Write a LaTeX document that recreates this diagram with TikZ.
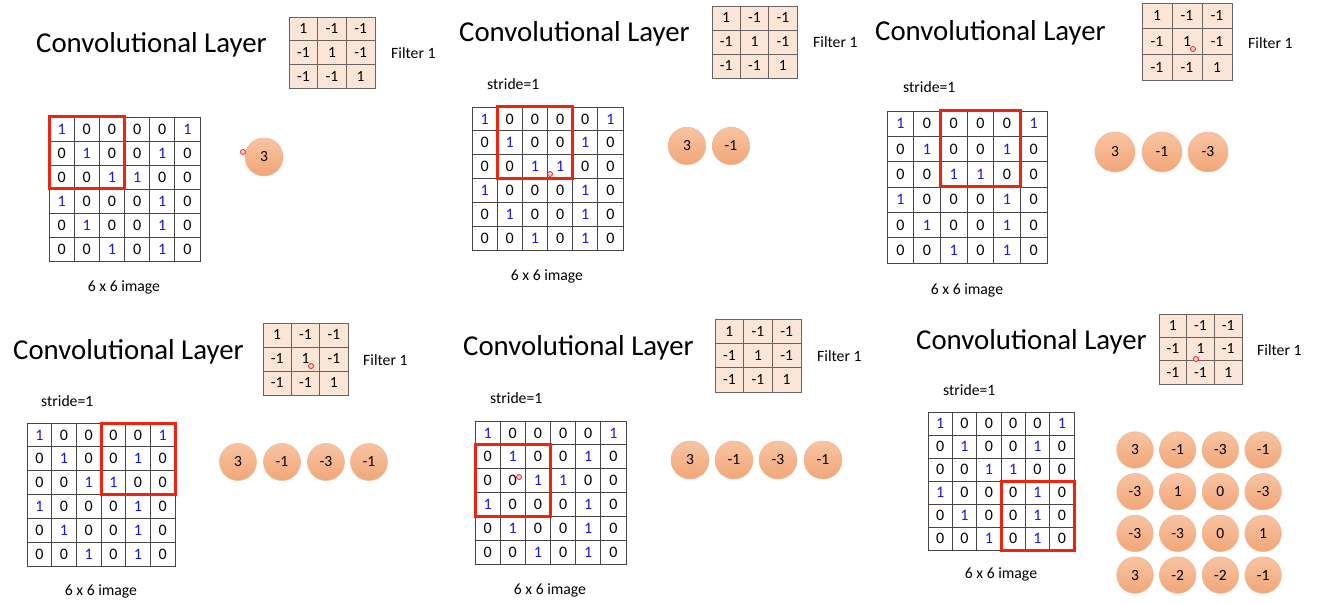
\documentclass[tikz,border=0pt]{standalone}
\usepackage{fontspec}
\setmainfont{Carlito}
\usetikzlibrary{calc}
\definecolor{imgblue}{RGB}{25,25,225}
\definecolor{gridgray}{RGB}{70,70,70}
\definecolor{filtgray}{RGB}{105,100,95}
\definecolor{filtfill}{RGB}{251,229,214}
\definecolor{boxred}{RGB}{240,35,15}
\definecolor{circtop}{RGB}{248,196,162}
\definecolor{circbot}{RGB}{241,166,120}
\definecolor{circedge}{RGB}{240,185,150}
\definecolor{laserred}{RGB}{235,30,30}
\tikzset{
  gridcell/.style={draw=gridgray, line width=0.9pt, inner sep=0pt, outer sep=0pt, font=\fontsize{16}{17}\selectfont},
  filtercell/.style={draw=filtgray, fill=filtfill, line width=0.9pt, inner sep=0pt, outer sep=0pt, font=\fontsize{15.5}{16}\selectfont},
  v1/.style={text=imgblue},
  v0/.style={text=black},
  redbox/.style={draw=boxred, line width=3pt},
  outcircle/.style={circle, draw=circedge, line width=0.6pt, top color=circtop, bottom color=circbot, inner sep=0pt, font=\fontsize{15.5}{16}\selectfont},
  titletext/.style={anchor=west, font=\fontsize{28.8}{30}\selectfont, inner sep=0pt},
  smalltext/.style={font=\fontsize{15.7}{16}\selectfont, inner sep=0pt},
  laser/.style={circle, draw=laserred, line width=0.8pt, fill=laserred!20, minimum size=5pt, inner sep=0pt},
}
% #1 prefix, #2 x1, #3 y1, #4 x2, #5 y2
\newcommand{\imagegrid}[5]{%
  \pgfmathsetmacro{\cw}{(#4-#2)/6}\pgfmathsetmacro{\ch}{(#5-#3)/6}%
  \foreach \rowvals [count=\ri from 0] in {{1,0,0,0,0,1},{0,1,0,0,1,0},{0,0,1,1,0,0},{1,0,0,0,1,0},{0,1,0,0,1,0},{0,0,1,0,1,0}}{
    \foreach \v [count=\ci from 0] in \rowvals {
      \node[gridcell, v\v, minimum width=\cw pt, minimum height=\ch pt] (#1-\ri-\ci) at ({#2+(\ci+0.5)*\cw}, {#3+(\ri+0.5)*\ch}) {\v};
    }
  }
}
\newcommand{\filtergrid}[5]{%
  \pgfmathsetmacro{\fw}{(#4-#2)/3}\pgfmathsetmacro{\fh}{(#5-#3)/3}%
  \foreach \rowvals [count=\ri from 0] in {{1,-1,-1},{-1,1,-1},{-1,-1,1}}{
    \foreach \v [count=\ci from 0] in \rowvals {
      \node[filtercell, minimum width=\fw pt, minimum height=\fh pt] (#1-\ri-\ci) at ({#2+(\ci+0.5)*\fw}, {#3+(\ri+0.5)*\fh}) {\v};
    }
  }
}
\begin{document}
\begin{tikzpicture}[x=1pt, y=-1pt]
\useasboundingbox (0,0) rectangle (1317,604);
\fill[white] (0,0) rectangle (1317,604);

% ---------- Panel 1 ----------
\node[titletext] (p1-title) at (36,45) {Convolutional Layer};
\filtergrid{p1f}{289}{17}{375}{88}
\node[smalltext, anchor=west] (p1-flabel) at (391,53) {Filter 1};
\imagegrid{p1g}{49}{117}{200}{261}
\draw[redbox] (p1g-0-0.north west) rectangle (p1g-2-2.south east);
\node[outcircle, minimum size=38pt] (p1-o1) at (264,157) {3};
\node[smalltext] (p1-ilabel) at (124,287) {6 x 6 image};
\node[laser] (p1-dot) at (243,152) {};

% ---------- Panel 2 ----------
\node[titletext] (p2-title) at (459,34) {Convolutional Layer};
\filtergrid{p2f}{712}{6}{797}{78}
\node[smalltext, anchor=west] (p2-flabel) at (813,42) {Filter 1};
\node[smalltext, anchor=west] (p2-stride) at (487,84) {stride=1};
\imagegrid{p2g}{472}{107}{623}{250}
\draw[redbox] (p2g-0-1.north west) rectangle (p2g-2-3.south east);
\node[outcircle, minimum size=37.5pt] (p2-o1) at (687,146) {3};
\node[outcircle, minimum size=37.5pt] (p2-o2) at (731,146) {-1};
\node[smalltext] (p2-ilabel) at (547,276) {6 x 6 image};
\node[laser] (p2-dot) at (550,174) {};

% ---------- Panel 3 ----------
\node[titletext] (p3-title) at (875,33) {Convolutional Layer};
\filtergrid{p3f}{1142}{3}{1232}{80}
\node[smalltext, anchor=west] (p3-flabel) at (1248,43) {Filter 1};
\node[smalltext, anchor=west] (p3-stride) at (903,87) {stride=1};
\imagegrid{p3g}{887}{111}{1047}{263}
\draw[redbox] (p3g-0-2.north west) rectangle (p3g-2-4.south east);
\node[outcircle, minimum size=40pt] (p3-o1) at (1115,152) {3};
\node[outcircle, minimum size=40pt] (p3-o2) at (1162,152) {-1};
\node[outcircle, minimum size=40pt] (p3-o3) at (1208,152) {-3};
\node[smalltext] (p3-ilabel) at (967,290) {6 x 6 image};
\node[laser] (p3-dot) at (1193,49) {};

% ---------- Panel 4 ----------
\node[titletext] (p4-title) at (13,352) {Convolutional Layer};
\filtergrid{p4f}{263}{323}{348}{395}
\node[smalltext, anchor=west] (p4-flabel) at (363,360) {Filter 1};
\node[smalltext, anchor=west] (p4-stride) at (41,401) {stride=1};
\imagegrid{p4g}{27}{423}{175}{566}
\draw[redbox] (p4g-0-3.north west) rectangle (p4g-2-5.south east);
\node[outcircle, minimum size=37pt] (p4-o1) at (238,462) {3};
\node[outcircle, minimum size=37pt] (p4-o2) at (282,462) {-1};
\node[outcircle, minimum size=37pt] (p4-o3) at (326,462) {-3};
\node[outcircle, minimum size=37pt] (p4-o4) at (369,462) {-1};
\node[smalltext] (p4-ilabel) at (101,591) {6 x 6 image};
\node[laser] (p4-dot) at (311,366) {};

% ---------- Panel 5 ----------
\node[titletext] (p5-title) at (463,348) {Convolutional Layer};
\filtergrid{p5f}{715}{319}{801}{392}
\node[smalltext, anchor=west] (p5-flabel) at (817,356) {Filter 1};
\node[smalltext, anchor=west] (p5-stride) at (490,398) {stride=1};
\imagegrid{p5g}{475}{421}{626}{564}
\draw[redbox] (p5g-1-0.north west) rectangle (p5g-3-2.south east);
\node[outcircle, minimum size=38pt] (p5-o1) at (690,460) {3};
\node[outcircle, minimum size=38pt] (p5-o2) at (734,460) {-1};
\node[outcircle, minimum size=38pt] (p5-o3) at (778,460) {-3};
\node[outcircle, minimum size=38pt] (p5-o4) at (823,460) {-1};
\node[smalltext] (p5-ilabel) at (550,590) {6 x 6 image};
\node[laser] (p5-dot) at (519,477) {};

% ---------- Panel 6 ----------
\node[titletext] (p6-title) at (916,342) {Convolutional Layer};
\filtergrid{p6f}{1159}{314}{1242}{384}
\node[smalltext, anchor=west] (p6-flabel) at (1257,350) {Filter 1};
\node[smalltext, anchor=west] (p6-stride) at (943,390) {stride=1};
\imagegrid{p6g}{928}{412}{1074}{550}
\draw[redbox] (p6g-3-3.north west) rectangle (p6g-5-5.south east);
\foreach \rowvals [count=\ri from 0] in {{3,-1,-3,-1},{-3,1,0,-3},{-3,-3,0,1},{3,-2,-2,-1}}{
  \foreach \v [count=\ci from 0] in \rowvals {
    \node[outcircle, minimum size=36.5pt] (p6-o-\ri-\ci) at ({1135+\ci*42.7}, {450+\ri*41.7}) {\v};
  }
}
\node[smalltext] (p6-ilabel) at (1001,574) {6 x 6 image};
\node[laser] (p6-dot) at (1196,359) {};
\end{tikzpicture}
\end{document}
